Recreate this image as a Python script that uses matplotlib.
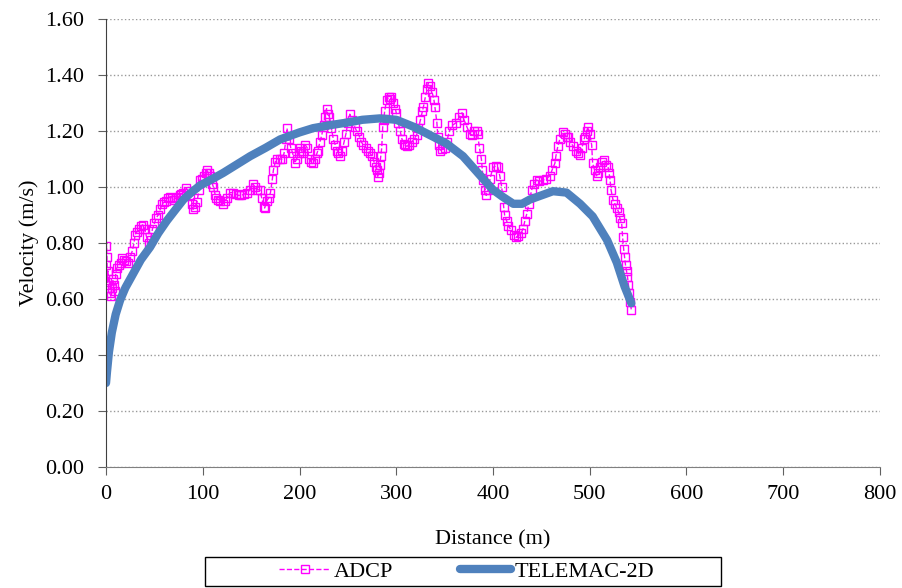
import matplotlib.pyplot as plt
from matplotlib.patches import Rectangle
from matplotlib.ticker import FormatStrFormatter

plt.rcParams['font.family'] = ['Liberation Serif', 'DejaVu Serif']

adcp = [
    (0, 0.72), (0.5, 0.79), (1, 0.75), (1.5, 0.66), (2, 0.70), (3, 0.64), (4, 0.62),
    (5, 0.61), (6, 0.64), (7, 0.67), (8, 0.65), (9, 0.63), (10, 0.69), (11, 0.71),
    (13, 0.72), (15, 0.73), (17, 0.745), (19, 0.74), (21, 0.735), (23, 0.73),
    (25, 0.75), (27, 0.77), (29, 0.80), (30, 0.83), (32, 0.84), (34, 0.85),
    (36, 0.86), (38, 0.865), (40, 0.85), (42, 0.82), (44, 0.80), (46, 0.81),
    (48, 0.85), (50, 0.87), (52, 0.89), (54, 0.90), (56, 0.92), (58, 0.94),
    (60, 0.945), (62, 0.95), (64, 0.96), (66, 0.965), (68, 0.96), (70, 0.955),
    (72, 0.96), (74, 0.965), (76, 0.97), (78, 0.975), (80, 0.98), (83, 0.995),
    (85, 0.985), (87, 0.97), (89, 0.94), (90, 0.92), (92, 0.93), (94, 0.945),
    (96, 0.99), (97, 1.025), (99, 1.03), (101, 1.04), (103, 1.05), (104, 1.06),
    (106, 1.05), (108, 1.04), (110, 1.01), (111, 1.00), (113, 0.97), (114, 0.96),
    (116, 0.955), (118, 0.95), (121, 0.94), (123, 0.95), (125, 0.96), (128, 0.98),
    (131, 0.98), (134, 0.975), (137, 0.97), (140, 0.97), (143, 0.975), (146, 0.98),
    (149, 0.99), (152, 1.01), (154, 1.00), (156, 0.99), (159, 0.99), (161, 0.96),
    (163, 0.93), (164, 0.925), (166, 0.95), (168, 0.96), (170, 0.98), (172, 1.03),
    (173, 1.06), (175, 1.09), (177, 1.10), (180, 1.10), (182, 1.10), (184, 1.12),
    (186, 1.17), (187, 1.21), (189, 1.17), (191, 1.14), (193, 1.12), (195, 1.085),
    (197, 1.10), (199, 1.12), (200, 1.14), (202, 1.13), (204, 1.12), (206, 1.15),
    (208, 1.14), (210, 1.10), (212, 1.09), (214, 1.085), (216, 1.10), (218, 1.12),
    (219, 1.13), (221, 1.16), (223, 1.185), (225, 1.22), (226, 1.25), (228, 1.28),
    (229, 1.26), (231, 1.25), (233, 1.21), (235, 1.17), (237, 1.15), (239, 1.13),
    (240, 1.12), (242, 1.11), (244, 1.13), (246, 1.16), (248, 1.19), (250, 1.23),
    (252, 1.26), (254, 1.24), (257, 1.215), (259, 1.20), (262, 1.18), (264, 1.16),
    (266, 1.15), (269, 1.14), (271, 1.13), (273, 1.12), (275, 1.11), (277, 1.09),
    (279, 1.07), (280, 1.06), (281, 1.035), (282, 1.05), (283, 1.08), (284, 1.11),
    (285, 1.14), (286, 1.215), (287, 1.24), (288, 1.27), (290, 1.31), (292, 1.32),
    (294, 1.315), (295, 1.32), (297, 1.30), (299, 1.28), (300, 1.265), (302, 1.23),
    (304, 1.20), (306, 1.17), (308, 1.155), (309, 1.15), (311, 1.145), (313, 1.15),
    (316, 1.16), (318, 1.17), (321, 1.185), (323, 1.21), (325, 1.24), (327, 1.27),
    (328, 1.285), (330, 1.32), (332, 1.35), (333, 1.37), (335, 1.36), (337, 1.34),
    (339, 1.31), (340, 1.285), (342, 1.23), (343, 1.18), (344, 1.15), (345, 1.13),
    (347, 1.135), (350, 1.14), (352, 1.16), (355, 1.20), (358, 1.22), (362, 1.23),
    (365, 1.25), (368, 1.265), (370, 1.24), (373, 1.215), (376, 1.19), (378, 1.185),
    (380, 1.20), (383, 1.20), (384, 1.19), (386, 1.14), (388, 1.10), (389, 1.06),
    (390, 1.025), (392, 0.99), (393, 0.97), (395, 0.99), (397, 1.03), (400, 1.07),
    (403, 1.075), (405, 1.07), (407, 1.04), (409, 1.00), (411, 0.93), (412, 0.90),
    (414, 0.88), (416, 0.86), (419, 0.845), (422, 0.83), (424, 0.82), (426, 0.825),
    (429, 0.835), (431, 0.85), (433, 0.88), (435, 0.905), (437, 0.94), (440, 0.99),
    (442, 1.01), (445, 1.025), (448, 1.02), (452, 1.025), (455, 1.03), (459, 1.04),
    (461, 1.06), (464, 1.085), (465, 1.11), (467, 1.145), (469, 1.17), (472, 1.195),
    (474, 1.19), (476, 1.18), (478, 1.18), (480, 1.16), (483, 1.145), (486, 1.13),
    (488, 1.12), (490, 1.115), (492, 1.14), (494, 1.17), (495, 1.18), (497, 1.20),
    (498, 1.215), (500, 1.19), (502, 1.15), (503, 1.085), (505, 1.06), (507, 1.04),
    (509, 1.05), (511, 1.07), (513, 1.09), (515, 1.095), (517, 1.08), (519, 1.07),
    (520, 1.05), (521, 1.025), (522, 0.99), (524, 0.955), (526, 0.94), (528, 0.925),
    (530, 0.91), (531, 0.89), (533, 0.87), (534, 0.82), (535, 0.78), (536, 0.75),
    (537, 0.72), (538, 0.70), (539, 0.68), (540, 0.65), (541, 0.62), (542, 0.59),
    (543, 0.56),
]
adcp_x = [p[0] for p in adcp]
adcp_v = [p[1] for p in adcp]

# TELEMAC-2D simulated velocity
tel_x = [0, 1, 3, 6, 10, 14.5, 20, 28, 36, 45.5, 54, 63, 72, 80, 88, 97, 108,
         121, 135, 149, 165, 180, 200, 214, 230, 249, 265, 283, 300, 318, 335,
         352, 369, 387, 400, 410, 421, 430, 438, 450, 462, 476, 490, 503, 518,
         528, 536, 543]
tel_v = [0.30, 0.34, 0.41, 0.48, 0.545, 0.595, 0.64, 0.69, 0.74, 0.785, 0.835,
         0.88, 0.92, 0.955, 0.98, 1.005, 1.025, 1.05, 1.08, 1.11, 1.14, 1.17,
         1.195, 1.21, 1.22, 1.23, 1.24, 1.245, 1.24, 1.215, 1.185, 1.155, 1.11,
         1.04, 0.99, 0.965, 0.94, 0.94, 0.955, 0.97, 0.985, 0.98, 0.94, 0.895,
         0.81, 0.73, 0.645, 0.585]

fig = plt.figure(figsize=(9.03, 5.88), dpi=100)
ax = fig.add_axes([0.1174, 0.2058, 0.8571, 0.7619])

ax.plot(adcp_x, adcp_v, color='#FF00FF', linestyle='--', linewidth=1,
        marker='s', markersize=5.5, markerfacecolor='none',
        markeredgecolor='#FF00FF', markeredgewidth=1, label='ADCP')
ax.plot(tel_x, tel_v, color='#4F81BD', linewidth=6, solid_capstyle='round',
        label='TELEMAC-2D')

ax.set_xlim(0, 800)
ax.set_ylim(0, 1.6)
ax.set_xticks(range(0, 801, 100))
ax.set_yticks([i * 0.2 for i in range(9)])
ax.yaxis.set_major_formatter(FormatStrFormatter('%.2f'))
ax.grid(axis='y', color='#999999', linestyle=':', linewidth=1)
ax.set_axisbelow(True)

for side in ['top', 'right']:
    ax.spines[side].set_visible(False)
ax.spines['left'].set_color('#404040')
ax.spines['bottom'].set_color('#808080')
ax.tick_params(direction='out', length=6, color='#606060', labelsize=16,
               labelcolor='black')
ax.tick_params(axis='y', pad=10)
ax.tick_params(axis='x', pad=7)

ax.set_xlabel('Distance (m)', fontsize=16, labelpad=19)
ax.set_ylabel('Velocity (m/s)', fontsize=16, labelpad=4)

leg = fig.legend(loc='center', bbox_to_anchor=(0.5166, 0.028), ncol=2,
                 fontsize=16, frameon=False, columnspacing=3.0,
                 handlelength=2.3, handletextpad=0.15)
fig.patches.append(Rectangle((0.2270, 0.0034), 0.5714, 0.0493,
                             transform=fig.transFigure, fill=False,
                             edgecolor='black', linewidth=1))

plt.savefig('out.png', dpi=100)
plt.close()
